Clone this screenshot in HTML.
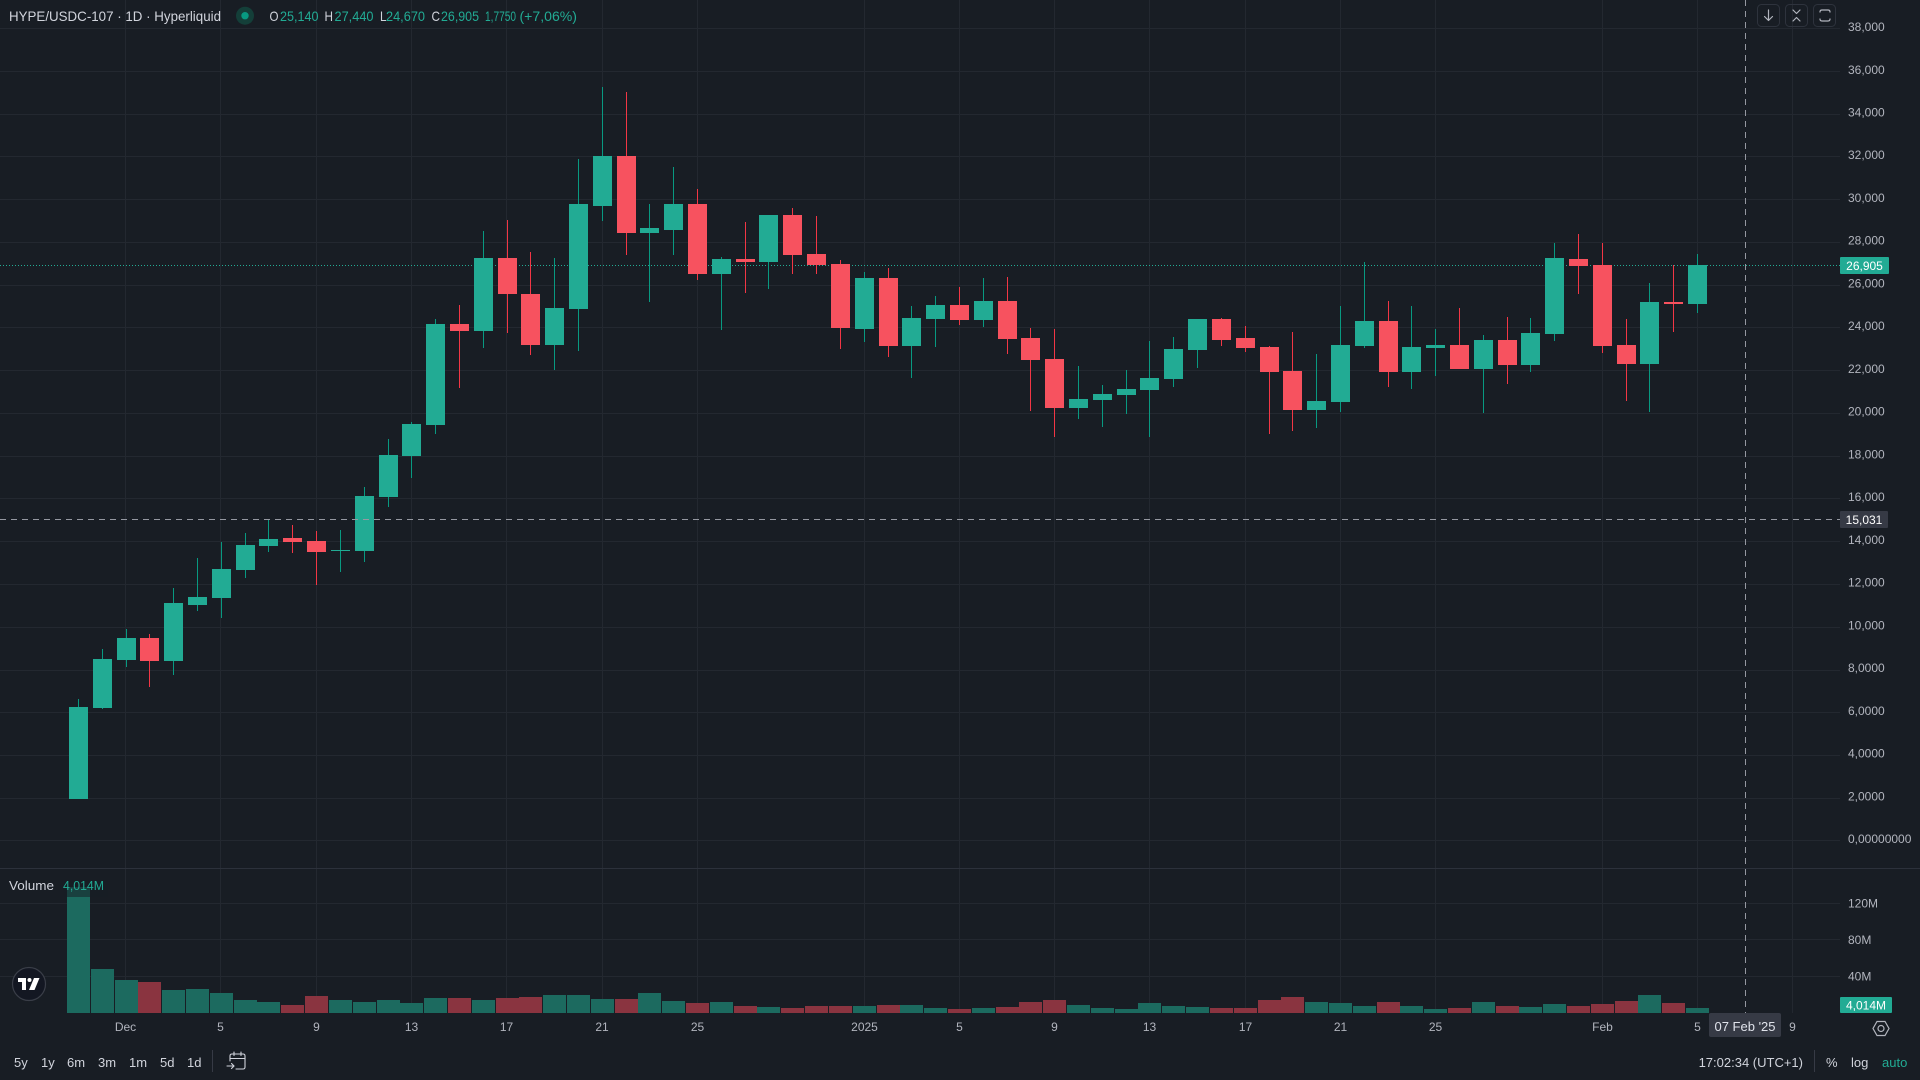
<!DOCTYPE html>
<html>
<head>
<meta charset="utf-8">
<style>
html,body{margin:0;padding:0;background:#181d24;}
body{width:1920px;height:1080px;overflow:hidden;font-family:"Liberation Sans",Arial,sans-serif;}
svg{display:block;}
text{font-family:"Liberation Sans",Arial,sans-serif;}
</style>
</head>
<body>
<svg width="1920" height="1080" viewBox="0 0 1920 1080" xmlns="http://www.w3.org/2000/svg">
<rect x="0" y="0" width="1920" height="1080" fill="#181d24"/>

<!-- horizontal grid price pane -->
<g fill="#232830">
<rect x="0" y="28" width="1840" height="1"/>
<rect x="0" y="71" width="1840" height="1"/>
<rect x="0" y="114" width="1840" height="1"/>
<rect x="0" y="156" width="1840" height="1"/>
<rect x="0" y="199" width="1840" height="1"/>
<rect x="0" y="242" width="1840" height="1"/>
<rect x="0" y="285" width="1840" height="1"/>
<rect x="0" y="327" width="1840" height="1"/>
<rect x="0" y="370" width="1840" height="1"/>
<rect x="0" y="413" width="1840" height="1"/>
<rect x="0" y="456" width="1840" height="1"/>
<rect x="0" y="498" width="1840" height="1"/>
<rect x="0" y="541" width="1840" height="1"/>
<rect x="0" y="584" width="1840" height="1"/>
<rect x="0" y="627" width="1840" height="1"/>
<rect x="0" y="670" width="1840" height="1"/>
<rect x="0" y="712" width="1840" height="1"/>
<rect x="0" y="755" width="1840" height="1"/>
<rect x="0" y="798" width="1840" height="1"/>
<rect x="0" y="840" width="1840" height="1"/>
<!-- volume grid -->
<rect x="0" y="903" width="1840" height="1"/>
<rect x="0" y="939" width="1840" height="1"/>
<rect x="0" y="976" width="1840" height="1"/>
</g>
<!-- vertical grid -->
<g fill="#232830">
<rect x="125" y="0" width="1" height="1013"/>
<rect x="220" y="0" width="1" height="1013"/>
<rect x="316" y="0" width="1" height="1013"/>
<rect x="411" y="0" width="1" height="1013"/>
<rect x="506" y="0" width="1" height="1013"/>
<rect x="602" y="0" width="1" height="1013"/>
<rect x="697" y="0" width="1" height="1013"/>
<rect x="864" y="0" width="1" height="1013"/>
<rect x="959" y="0" width="1" height="1013"/>
<rect x="1054" y="0" width="1" height="1013"/>
<rect x="1149" y="0" width="1" height="1013"/>
<rect x="1245" y="0" width="1" height="1013"/>
<rect x="1340" y="0" width="1" height="1013"/>
<rect x="1435" y="0" width="1" height="1013"/>
<rect x="1602" y="0" width="1" height="1013"/>
<rect x="1697" y="0" width="1" height="1013"/>
<rect x="1792" y="0" width="1" height="1013"/>
</g>
<!-- pane separator -->
<rect x="0" y="868" width="1920" height="1" fill="#2c313b"/>

<!-- current price dotted line -->
<line x1="0" y1="265.5" x2="1840" y2="265.5" stroke="#22ab94" stroke-width="1" stroke-dasharray="1 2"/>

<!-- volume bars green -->
<g fill="#1c6a5f">
<rect x="67" y="887" width="23" height="126"/>
<rect x="91" y="969" width="23" height="44"/>
<rect x="115" y="980" width="23" height="33"/>
<rect x="162" y="990" width="23" height="23"/>
<rect x="186" y="989" width="23" height="24"/>
<rect x="210" y="993" width="23" height="20"/>
<rect x="234" y="1000" width="23" height="13"/>
<rect x="257" y="1002" width="23" height="11"/>
<rect x="329" y="1000" width="23" height="13"/>
<rect x="353" y="1002" width="23" height="11"/>
<rect x="377" y="1000" width="23" height="13"/>
<rect x="400" y="1003" width="23" height="10"/>
<rect x="424" y="998" width="23" height="15"/>
<rect x="472" y="1000" width="23" height="13"/>
<rect x="543" y="995" width="23" height="18"/>
<rect x="567" y="995" width="23" height="18"/>
<rect x="591" y="999" width="23" height="14"/>
<rect x="638" y="993" width="23" height="20"/>
<rect x="662" y="1001" width="23" height="12"/>
<rect x="710" y="1002" width="23" height="11"/>
<rect x="757" y="1007" width="23" height="6"/>
<rect x="853" y="1006" width="23" height="7"/>
<rect x="900" y="1005" width="23" height="8"/>
<rect x="924" y="1008" width="23" height="5"/>
<rect x="972" y="1008" width="23" height="5"/>
<rect x="1067" y="1005" width="23" height="8"/>
<rect x="1091" y="1008" width="23" height="5"/>
<rect x="1115" y="1009" width="23" height="4"/>
<rect x="1138" y="1003" width="23" height="10"/>
<rect x="1162" y="1006" width="23" height="7"/>
<rect x="1186" y="1007" width="23" height="6"/>
<rect x="1305" y="1002" width="23" height="11"/>
<rect x="1329" y="1003" width="23" height="10"/>
<rect x="1353" y="1006" width="23" height="7"/>
<rect x="1400" y="1006" width="23" height="7"/>
<rect x="1424" y="1009" width="23" height="4"/>
<rect x="1472" y="1002" width="23" height="11"/>
<rect x="1519" y="1007" width="23" height="6"/>
<rect x="1543" y="1004" width="23" height="9"/>
<rect x="1638" y="995" width="23" height="18"/>
<rect x="1686" y="1008" width="23" height="5"/>
</g>
<!-- volume bars red -->
<g fill="#8a3440">
<rect x="138" y="982" width="23" height="31"/>
<rect x="281" y="1005" width="23" height="8"/>
<rect x="305" y="996" width="23" height="17"/>
<rect x="448" y="998" width="23" height="15"/>
<rect x="496" y="998" width="23" height="15"/>
<rect x="519" y="997" width="23" height="16"/>
<rect x="615" y="999" width="23" height="14"/>
<rect x="686" y="1003" width="23" height="10"/>
<rect x="734" y="1006" width="23" height="7"/>
<rect x="781" y="1008" width="23" height="5"/>
<rect x="805" y="1006" width="23" height="7"/>
<rect x="829" y="1006" width="23" height="7"/>
<rect x="877" y="1005" width="23" height="8"/>
<rect x="948" y="1009" width="23" height="4"/>
<rect x="996" y="1007" width="23" height="6"/>
<rect x="1019" y="1002" width="23" height="11"/>
<rect x="1043" y="1000" width="23" height="13"/>
<rect x="1210" y="1008" width="23" height="5"/>
<rect x="1234" y="1008" width="23" height="5"/>
<rect x="1258" y="1000" width="23" height="13"/>
<rect x="1281" y="997" width="23" height="16"/>
<rect x="1377" y="1002" width="23" height="11"/>
<rect x="1448" y="1008" width="23" height="5"/>
<rect x="1496" y="1006" width="23" height="7"/>
<rect x="1567" y="1006" width="23" height="7"/>
<rect x="1591" y="1004" width="23" height="9"/>
<rect x="1615" y="1001" width="23" height="12"/>
<rect x="1662" y="1003" width="23" height="10"/>
</g>

<!-- wicks green -->
<g fill="#089981">
<rect x="78" y="699" width="1" height="100"/>
<rect x="102" y="649" width="1" height="60"/>
<rect x="126" y="629" width="1" height="38"/>
<rect x="173" y="588" width="1" height="87"/>
<rect x="197" y="558" width="1" height="53"/>
<rect x="221" y="542" width="1" height="76"/>
<rect x="245" y="533" width="1" height="45"/>
<rect x="268" y="519" width="1" height="33"/>
<rect x="340" y="530" width="1" height="42"/>
<rect x="364" y="487" width="1" height="75"/>
<rect x="388" y="439" width="1" height="68"/>
<rect x="411" y="422" width="1" height="56"/>
<rect x="435" y="319" width="1" height="115"/>
<rect x="483" y="231" width="1" height="117"/>
<rect x="554" y="258" width="1" height="112"/>
<rect x="578" y="159" width="1" height="192"/>
<rect x="602" y="87" width="1" height="134"/>
<rect x="649" y="204" width="1" height="98"/>
<rect x="673" y="167" width="1" height="88"/>
<rect x="721" y="257" width="1" height="73"/>
<rect x="768" y="215" width="1" height="74"/>
<rect x="864" y="272" width="1" height="70"/>
<rect x="911" y="306" width="1" height="72"/>
<rect x="935" y="296" width="1" height="51"/>
<rect x="983" y="278" width="1" height="49"/>
<rect x="1078" y="366" width="1" height="53"/>
<rect x="1102" y="385" width="1" height="42"/>
<rect x="1126" y="370" width="1" height="44"/>
<rect x="1149" y="341" width="1" height="96"/>
<rect x="1173" y="337" width="1" height="50"/>
<rect x="1197" y="319" width="1" height="49"/>
<rect x="1316" y="354" width="1" height="74"/>
<rect x="1340" y="306" width="1" height="106"/>
<rect x="1364" y="262" width="1" height="86"/>
<rect x="1411" y="306" width="1" height="83"/>
<rect x="1435" y="329" width="1" height="47"/>
<rect x="1483" y="335" width="1" height="78"/>
<rect x="1530" y="318" width="1" height="54"/>
<rect x="1554" y="243" width="1" height="98"/>
<rect x="1649" y="283" width="1" height="129"/>
<rect x="1697" y="254" width="1" height="59"/>
</g>
<!-- wicks red -->
<g fill="#f23645">
<rect x="149" y="634" width="1" height="53"/>
<rect x="292" y="525" width="1" height="28"/>
<rect x="316" y="531" width="1" height="54"/>
<rect x="459" y="305" width="1" height="83"/>
<rect x="507" y="220" width="1" height="113"/>
<rect x="530" y="252" width="1" height="103"/>
<rect x="626" y="92" width="1" height="163"/>
<rect x="697" y="189" width="1" height="91"/>
<rect x="745" y="222" width="1" height="71"/>
<rect x="792" y="208" width="1" height="66"/>
<rect x="816" y="216" width="1" height="58"/>
<rect x="840" y="260" width="1" height="89"/>
<rect x="888" y="268" width="1" height="89"/>
<rect x="959" y="287" width="1" height="38"/>
<rect x="1007" y="277" width="1" height="77"/>
<rect x="1030" y="328" width="1" height="83"/>
<rect x="1054" y="329" width="1" height="108"/>
<rect x="1221" y="318" width="1" height="28"/>
<rect x="1245" y="326" width="1" height="26"/>
<rect x="1269" y="346" width="1" height="88"/>
<rect x="1292" y="332" width="1" height="99"/>
<rect x="1388" y="301" width="1" height="86"/>
<rect x="1459" y="308" width="1" height="61"/>
<rect x="1507" y="317" width="1" height="67"/>
<rect x="1578" y="234" width="1" height="60"/>
<rect x="1602" y="243" width="1" height="110"/>
<rect x="1626" y="319" width="1" height="82"/>
<rect x="1673" y="265" width="1" height="67"/>
</g>

<!-- bodies green -->
<g fill="#22ab94">
<rect x="69" y="707" width="19" height="92"/>
<rect x="93" y="659" width="19" height="49"/>
<rect x="117" y="638" width="19" height="22"/>
<rect x="164" y="603" width="19" height="58"/>
<rect x="188" y="597" width="19" height="8"/>
<rect x="212" y="569" width="19" height="29"/>
<rect x="236" y="545" width="19" height="25"/>
<rect x="259" y="539" width="19" height="7"/>
<rect x="331" y="550" width="19" height="1"/>
<rect x="355" y="496" width="19" height="55"/>
<rect x="379" y="455" width="19" height="42"/>
<rect x="402" y="424" width="19" height="32"/>
<rect x="426" y="324" width="19" height="101"/>
<rect x="474" y="258" width="19" height="73"/>
<rect x="545" y="308" width="19" height="37"/>
<rect x="569" y="204" width="19" height="105"/>
<rect x="593" y="156" width="19" height="50"/>
<rect x="640" y="228" width="19" height="5"/>
<rect x="664" y="204" width="19" height="26"/>
<rect x="712" y="259" width="19" height="15"/>
<rect x="759" y="215" width="19" height="47"/>
<rect x="855" y="278" width="19" height="51"/>
<rect x="902" y="318" width="19" height="28"/>
<rect x="926" y="305" width="19" height="14"/>
<rect x="974" y="301" width="19" height="19"/>
<rect x="1069" y="399" width="19" height="9"/>
<rect x="1093" y="394" width="19" height="6"/>
<rect x="1117" y="389" width="19" height="6"/>
<rect x="1140" y="378" width="19" height="12"/>
<rect x="1164" y="349" width="19" height="30"/>
<rect x="1188" y="319" width="19" height="31"/>
<rect x="1307" y="401" width="19" height="9"/>
<rect x="1331" y="345" width="19" height="57"/>
<rect x="1355" y="321" width="19" height="25"/>
<rect x="1402" y="347" width="19" height="25"/>
<rect x="1426" y="345" width="19" height="3"/>
<rect x="1474" y="340" width="19" height="29"/>
<rect x="1521" y="333" width="19" height="32"/>
<rect x="1545" y="258" width="19" height="76"/>
<rect x="1640" y="302" width="19" height="62"/>
<rect x="1688" y="265" width="19" height="39"/>
</g>
<!-- bodies red -->
<g fill="#f7525f">
<rect x="140" y="638" width="19" height="23"/>
<rect x="283" y="538" width="19" height="4"/>
<rect x="307" y="541" width="19" height="11"/>
<rect x="450" y="324" width="19" height="7"/>
<rect x="498" y="258" width="19" height="36"/>
<rect x="521" y="294" width="19" height="51"/>
<rect x="617" y="156" width="19" height="77"/>
<rect x="688" y="204" width="19" height="70"/>
<rect x="736" y="259" width="19" height="3"/>
<rect x="783" y="215" width="19" height="40"/>
<rect x="807" y="254" width="19" height="11"/>
<rect x="831" y="264" width="19" height="64"/>
<rect x="879" y="278" width="19" height="68"/>
<rect x="950" y="305" width="19" height="15"/>
<rect x="998" y="301" width="19" height="38"/>
<rect x="1021" y="338" width="19" height="22"/>
<rect x="1045" y="359" width="19" height="49"/>
<rect x="1212" y="319" width="19" height="21"/>
<rect x="1236" y="338" width="19" height="10"/>
<rect x="1260" y="347" width="19" height="25"/>
<rect x="1283" y="371" width="19" height="39"/>
<rect x="1379" y="321" width="19" height="51"/>
<rect x="1450" y="345" width="19" height="24"/>
<rect x="1498" y="340" width="19" height="25"/>
<rect x="1569" y="259" width="19" height="7"/>
<rect x="1593" y="265" width="19" height="81"/>
<rect x="1617" y="345" width="19" height="19"/>
<rect x="1664" y="302" width="19" height="2"/>
</g>

<!-- crosshair -->
<line x1="0" y1="519.5" x2="1840" y2="519.5" stroke="#9598a1" stroke-width="1" stroke-dasharray="6 5"/>
<line x1="1745.5" y1="0" x2="1745.5" y2="1013" stroke="#9598a1" stroke-width="1" stroke-dasharray="6 5"/>

<!-- header -->
<text x="9" y="21" font-size="14" fill="#d1d4dc" textLength="212" lengthAdjust="spacingAndGlyphs">HYPE/USDC-107 · 1D · Hyperliquid</text>
<circle cx="245" cy="15.7" r="9" fill="#143f39"/>
<circle cx="245" cy="15.7" r="3.7" fill="#089981"/>
<g font-size="14">
<text x="269.5" y="21" fill="#d1d4dc" textLength="9" lengthAdjust="spacingAndGlyphs">O</text>
<text x="280" y="21" fill="#22ab94" textLength="38.5" lengthAdjust="spacingAndGlyphs">25,140</text>
<text x="324.5" y="21" fill="#d1d4dc" textLength="8.5" lengthAdjust="spacingAndGlyphs">H</text>
<text x="334.5" y="21" fill="#22ab94" textLength="39" lengthAdjust="spacingAndGlyphs">27,440</text>
<text x="380" y="21" fill="#d1d4dc" textLength="6.5" lengthAdjust="spacingAndGlyphs">L</text>
<text x="386" y="21" fill="#22ab94" textLength="39" lengthAdjust="spacingAndGlyphs">24,670</text>
<text x="431.5" y="21" fill="#d1d4dc" textLength="8.5" lengthAdjust="spacingAndGlyphs">C</text>
<text x="441" y="21" fill="#22ab94" textLength="38" lengthAdjust="spacingAndGlyphs">26,905</text>
<text x="485" y="21" fill="#22ab94" textLength="31" lengthAdjust="spacingAndGlyphs">1,7750</text>
<text x="519.5" y="21" fill="#22ab94" textLength="57.5" lengthAdjust="spacingAndGlyphs">(+7,06%)</text>
</g>

<!-- top right buttons -->
<g fill="none" stroke="#2e333d" stroke-width="1">
<rect x="1757.5" y="4.5" width="22" height="22" rx="4"/>
<rect x="1785.5" y="4.5" width="22" height="22" rx="4"/>
<rect x="1813.5" y="4.5" width="22" height="22" rx="4"/>
</g>
<g fill="none" stroke="#b2b5be" stroke-width="1.2" stroke-linecap="round" stroke-linejoin="round">
<path d="M1768.5 10 V20 M1764.5 16.5 L1768.5 20.5 L1772.5 16.5"/>
<path d="M1793 10 L1796.5 13.5 L1800 10 M1793 21 L1796.5 17.5 L1800 21"/>
<path d="M1820 12 Q1820 10 1822 10 H1828 Q1830 10 1830 12 M1820 19 Q1820 21 1822 21 H1828 Q1830 21 1830 19"/>
</g>

<!-- price axis labels -->
<g font-size="12" fill="#b2b5be">
<text x="1848" y="31">38,000</text>
<text x="1848" y="74">36,000</text>
<text x="1848" y="116.5">34,000</text>
<text x="1848" y="159">32,000</text>
<text x="1848" y="202">30,000</text>
<text x="1848" y="244.5">28,000</text>
<text x="1848" y="287.5">26,000</text>
<text x="1848" y="330">24,000</text>
<text x="1848" y="373">22,000</text>
<text x="1848" y="415.5">20,000</text>
<text x="1848" y="458.5">18,000</text>
<text x="1848" y="501">16,000</text>
<text x="1848" y="544">14,000</text>
<text x="1848" y="586.5">12,000</text>
<text x="1848" y="629.5">10,000</text>
<text x="1848" y="672">8,0000</text>
<text x="1848" y="715">6,0000</text>
<text x="1848" y="757.5">4,0000</text>
<text x="1848" y="800.5">2,0000</text>
<text x="1848" y="843">0,00000000</text>
<text x="1848" y="907.5">120M</text>
<text x="1848" y="944">80M</text>
<text x="1848" y="980.5">40M</text>
</g>

<!-- current price label -->
<rect x="1840" y="257" width="49" height="17" rx="1" fill="#22ab94"/>
<text x="1864.5" y="270" font-size="12" fill="#ffffff" text-anchor="middle">26,905</text>
<!-- crosshair price label -->
<rect x="1840" y="511" width="48" height="17" rx="1" fill="#363a45"/>
<text x="1864" y="524" font-size="12" fill="#ffffff" text-anchor="middle">15,031</text>
<!-- volume label -->
<rect x="1840" y="997" width="52" height="16" rx="1" fill="#22ab94"/>
<text x="1866" y="1009.5" font-size="12" fill="#ffffff" text-anchor="middle">4,014M</text>

<!-- volume legend -->
<rect x="64" y="880" width="44" height="17" fill="#181d24" opacity="0.55"/>
<text x="9" y="890" font-size="13" fill="#d1d4dc" textLength="45" lengthAdjust="spacingAndGlyphs">Volume</text>
<text x="63" y="890" font-size="13" fill="#22ab94" textLength="41" lengthAdjust="spacingAndGlyphs">4,014M</text>

<!-- TV logo -->
<circle cx="29" cy="984" r="16.5" fill="#131722" stroke="#3a3e48" stroke-width="1.2"/>
<g fill="#ffffff">
<path d="M18 978 H26 V990 H22 V982 H18 Z"/>
<circle cx="29.5" cy="980" r="2"/>
<path d="M34 978 H39.5 L34.5 990 H29 Z"/>
</g>

<!-- time axis labels -->
<g font-size="12" fill="#b2b5be" text-anchor="middle">
<text x="125.5" y="1031">Dec</text>
<text x="220.5" y="1031">5</text>
<text x="316.5" y="1031">9</text>
<text x="411.5" y="1031">13</text>
<text x="506.5" y="1031">17</text>
<text x="602" y="1031">21</text>
<text x="697.5" y="1031">25</text>
<text x="864.5" y="1031">2025</text>
<text x="959.5" y="1031">5</text>
<text x="1054.5" y="1031">9</text>
<text x="1149.5" y="1031">13</text>
<text x="1245.5" y="1031">17</text>
<text x="1340.5" y="1031">21</text>
<text x="1435.5" y="1031">25</text>
<text x="1602.5" y="1031">Feb</text>
<text x="1697.5" y="1031">5</text>
<text x="1792.5" y="1031">9</text>
</g>
<!-- crosshair date label -->
<rect x="1709" y="1013" width="72" height="24" rx="2" fill="#363a45"/>
<text x="1745" y="1031" font-size="13" fill="#e0e3eb" text-anchor="middle">07 Feb '25</text>

<!-- gear -->
<g fill="none" stroke="#b2b5be" stroke-width="1.2">
<path d="M1877 1021.5 L1885 1021.5 L1889 1028.5 L1885 1035.5 L1877 1035.5 L1873 1028.5 Z"/>
<circle cx="1881" cy="1028.5" r="3"/>
</g>

<!-- bottom toolbar -->
<g font-size="13" fill="#d1d4dc">
<text x="14" y="1067">5y</text>
<text x="41" y="1067">1y</text>
<text x="67" y="1067">6m</text>
<text x="98" y="1067">3m</text>
<text x="129" y="1067">1m</text>
<text x="160" y="1067">5d</text>
<text x="187" y="1067">1d</text>
<text x="1803" y="1067" text-anchor="end">17:02:34 (UTC+1)</text>
<text x="1826" y="1067">%</text>
<text x="1851" y="1067">log</text>
</g>
<text x="1882" y="1067" font-size="13" fill="#22ab94">auto</text>
<rect x="212" y="1050" width="1" height="22" fill="#363a45"/>
<rect x="1814" y="1050" width="1" height="22" fill="#363a45"/>
<!-- calendar icon -->
<g fill="none" stroke="#d1d4dc" stroke-width="1.1" stroke-linecap="round">
<path d="M230 1061 V1056 Q230 1054 232 1054 H243 Q245 1054 245 1056 V1067 Q245 1069 243 1069 H236"/>
<path d="M230 1058.5 H245"/>
<path d="M234 1052 V1055.5 M241 1052 V1055.5"/>
<path d="M227 1066 H234 M231.5 1063.5 L234 1066 L231.5 1068.5"/>
</g>
</svg>
</body>
</html>
